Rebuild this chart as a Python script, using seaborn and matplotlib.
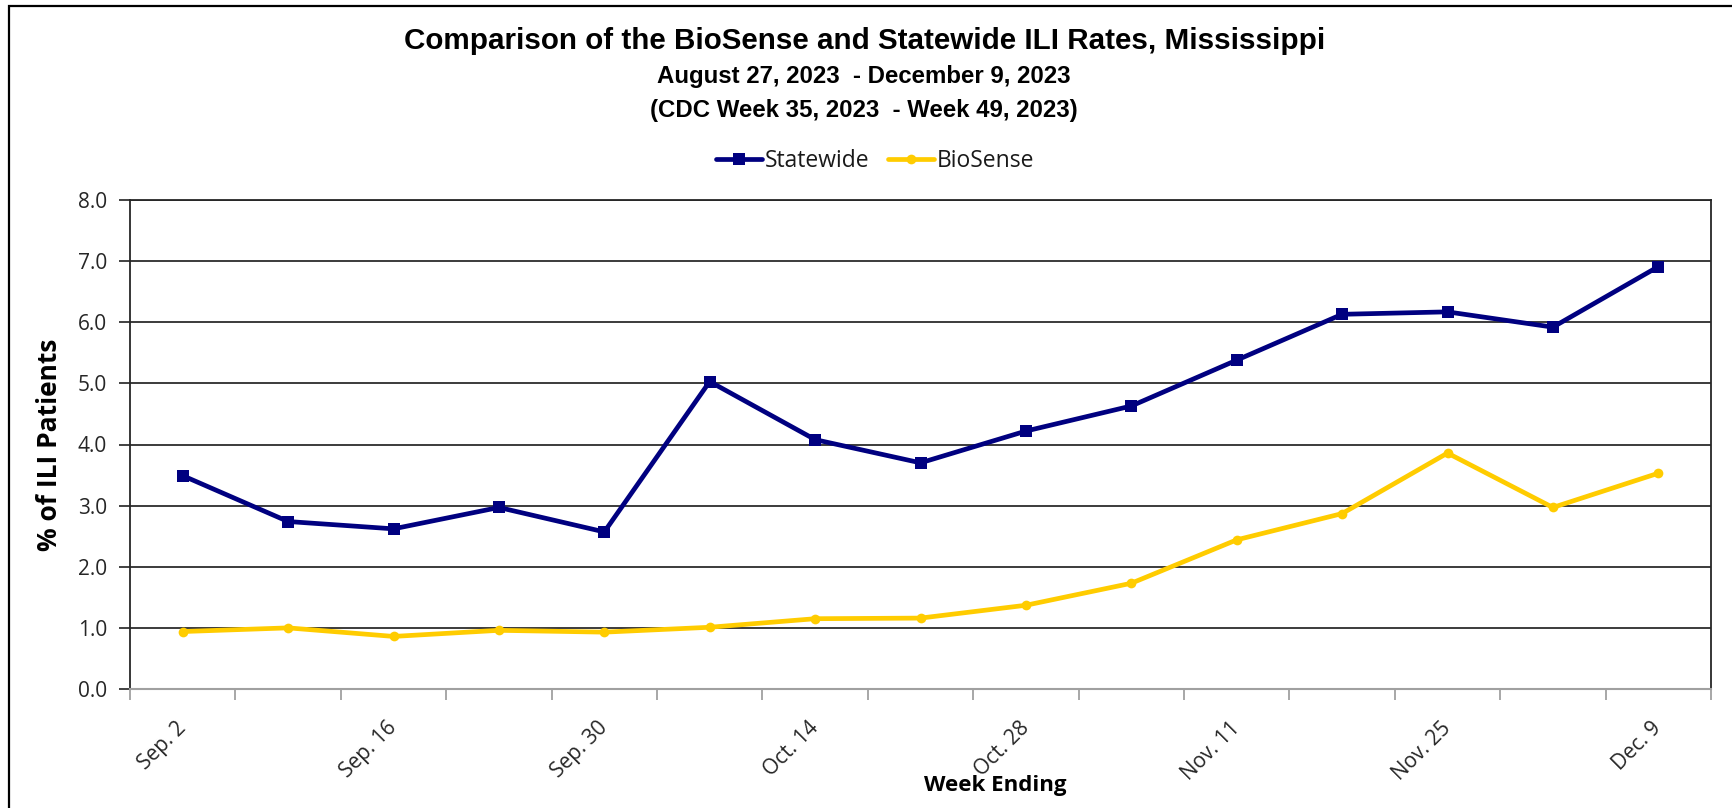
import matplotlib
matplotlib.use("Agg")
import matplotlib.pyplot as plt
from matplotlib import font_manager
from matplotlib.patches import Rectangle
from matplotlib.ticker import FixedLocator, FormatStrFormatter
import seaborn as sns
import pandas as pd
import numpy as np

# ---- data ----
weeks = ["Sep. 2", "Sep. 9", "Sep. 16", "Sep. 23", "Sep. 30", "Oct. 7", "Oct. 14",
         "Oct. 21", "Oct. 28", "Nov. 4", "Nov. 11", "Nov. 18", "Nov. 25", "Dec. 2", "Dec. 9"]
statewide = [3.49, 2.74, 2.62, 2.97, 2.57, 5.03, 4.08, 3.70, 4.22, 4.63, 5.38, 6.13, 6.17, 5.92, 6.91]
biosense = [0.94, 1.00, 0.86, 0.96, 0.93, 1.01, 1.15, 1.16, 1.37, 1.73, 2.44, 2.87, 3.86, 2.97, 3.53]
yticks = [0, 1, 2, 3, 4, 5, 6, 7, 8]

title = "Comparison of the BioSense and Statewide ILI Rates, Mississippi"
sub1 = "August 27, 2023  - December 9, 2023"
sub2 = "(CDC Week 35, 2023  - Week 49, 2023)"

sns.set_theme(style="white")
names = {f.name for f in font_manager.fontManager.ttflist}
narrow = "Liberation Sans Narrow" if "Liberation Sans Narrow" in names else "Liberation Sans"
body = "Open Sans" if "Open Sans" in names else "DejaVu Sans"
plt.rcParams["font.family"] = [body, "DejaVu Sans"]
plt.rcParams["text.color"] = "black"

df = pd.DataFrame({"week": weeks, "Statewide": statewide, "BioSense": biosense})

fig = plt.figure(figsize=(17.32, 8.08), dpi=100)
ax = fig.add_axes([130 / 1732, 1 - 689 / 808, (1711 - 130) / 1732, (689 - 200) / 808])

sns.lineplot(data=df, x="week", y="Statewide", ax=ax, color="#000080", lw=3.4,
             marker="s", markersize=8, markeredgewidth=0, label="Statewide", sort=False)
sns.lineplot(data=df, x="week", y="BioSense", ax=ax, color="#FFCC00", lw=3.4,
             marker="o", markersize=7, markeredgewidth=0, label="BioSense", sort=False)

n = len(weeks)
ax.set_xlim(-0.5, n - 0.5)
ax.set_ylim(0, 8)
ax.yaxis.set_major_locator(FixedLocator(yticks))
ax.yaxis.set_major_formatter(FormatStrFormatter("%.1f"))
ax.grid(axis="y", color="#1a1a1a", lw=1.2)
ax.set_axisbelow(True)

# x ticks: labels every other week, tick marks at category boundaries
ax.set_xticks(range(0, n, 2))
ax.set_xticklabels([weeks[i] for i in range(0, n, 2)], rotation=45, ha="right",
                   va="center", rotation_mode="anchor")
ax.set_xticks(np.arange(-0.5, n, 1.0), minor=True)
ax.tick_params(axis="x", which="major", length=0, pad=26, labelsize=15, labelcolor="#262626")
ax.tick_params(axis="x", which="minor", length=8, width=1.3, color="#a0a0a0", direction="out")
ax.tick_params(axis="y", which="major", length=8, width=1.3, color="#333333", direction="out",
               pad=8.5, labelsize=15, labelcolor="#262626")
ax.tick_params(bottom=True, left=True, which="both")

for s in ["left", "right", "top"]:
    ax.spines[s].set_color("#262626")
    ax.spines[s].set_linewidth(1.3)
ax.spines["bottom"].set_color("#a0a0a0")
ax.spines["bottom"].set_linewidth(1.5)

ax.set_xlabel("")
ax.set_ylabel("% of ILI Patients", fontsize=19, fontweight="bold", labelpad=11, color="black")
fig.text(995 / 1732, 1 - 786 / 808, "Week Ending", ha="center", va="center",
         fontsize=16, fontweight="bold", color="black")

fig.text(0.499, 1 - 41 / 808, title, ha="center", va="center", fontsize=21.3,
         fontweight="bold", family=[narrow, "DejaVu Sans"], color="black")
fig.text(0.499, 1 - 77 / 808, sub1, ha="center", va="center", fontsize=17.3,
         fontweight="bold", family=[narrow, "DejaVu Sans"], color="black")
fig.text(0.499, 1 - 110 / 808, sub2, ha="center", va="center", fontsize=17.3,
         fontweight="bold", family=[narrow, "DejaVu Sans"], color="black")

leg = ax.legend(loc="center", bbox_to_anchor=(875 / 1732, 1 - 161 / 808),
                bbox_transform=fig.transFigure, ncol=2, frameon=False, fontsize=16.5,
                handlelength=2.0, handletextpad=0.12, columnspacing=0.8)
for t in leg.get_texts():
    t.set_color("#1a1a1a")

fig.add_artist(Rectangle((9 / 1732, -0.1), 1.2, 1.1 - 6.5 / 808, transform=fig.transFigure,
                         fill=False, ec="black", lw=1.6, clip_on=False))

fig.savefig("out.png", dpi=100)
